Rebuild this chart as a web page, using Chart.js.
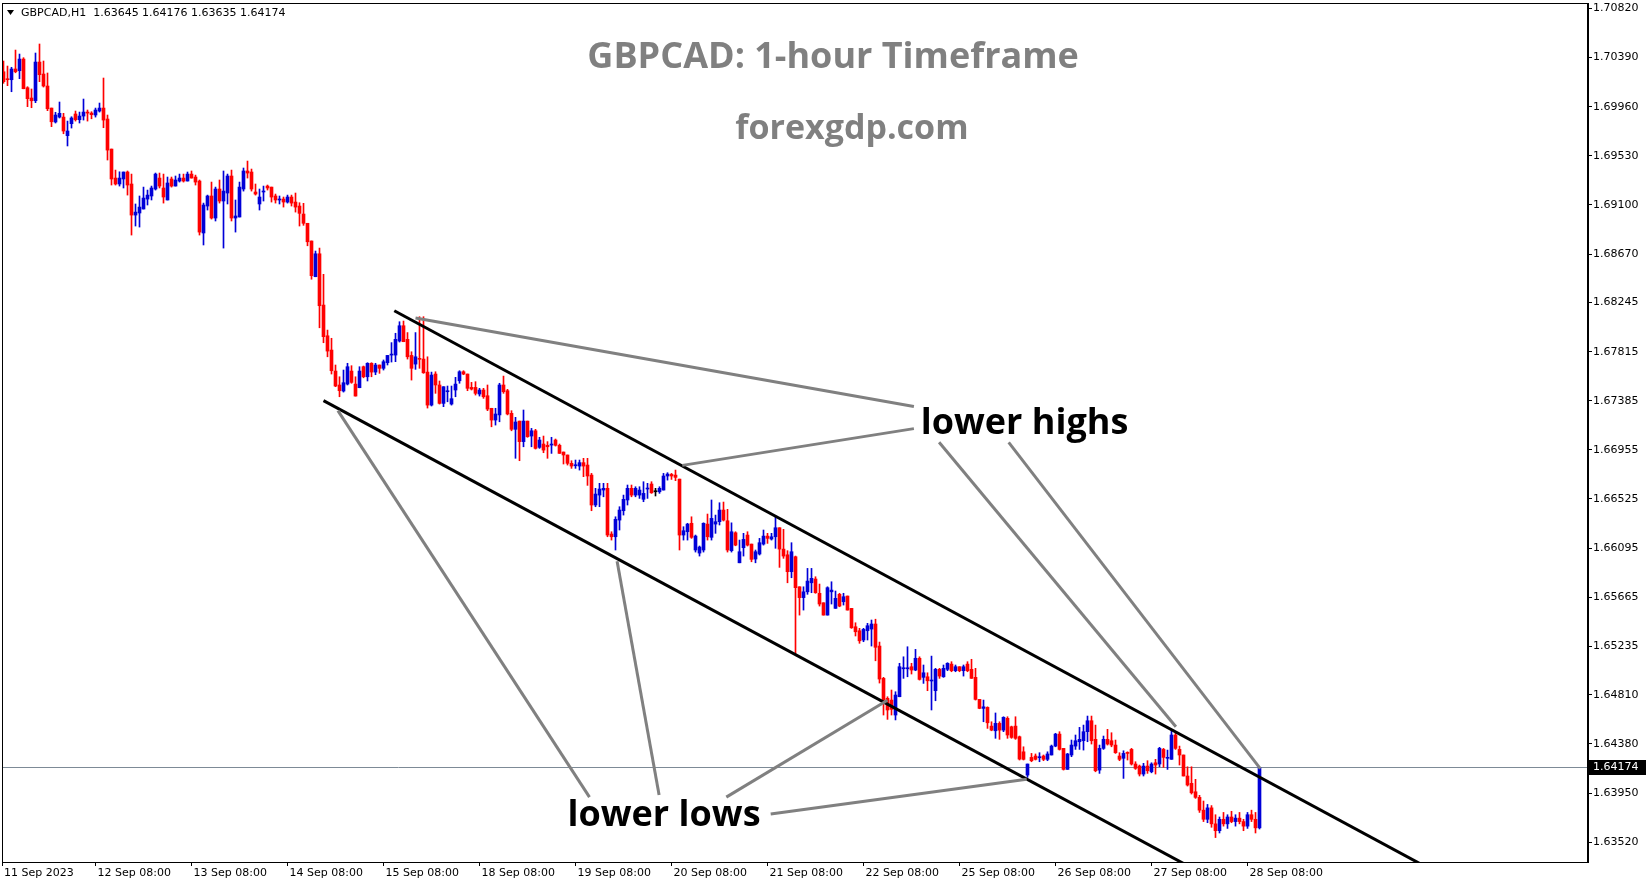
<!DOCTYPE html>
<html><head><meta charset="utf-8">
<script src="https://cdn.jsdelivr.net/npm/chart.js@4/dist/chart.umd.min.js"></script>
<style>html,body{margin:0;padding:0;background:#fff;overflow:hidden}canvas{display:block}</style>
</head><body>
<canvas id="c" width="1649" height="884" style="width:1649px;height:884px"></canvas>
<script>
// ---------- DATA (GBPCAD H1) ----------
const opens = [
1.70266,1.70205,1.70196,1.70290,1.70275,1.70377,1.70126,1.70036,1.70012,1.70351,
1.70246,1.70141,1.69948,1.69826,1.69869,1.69869,1.69706,1.69811,1.69896,1.69846,
1.69878,1.69913,1.69904,1.69887,1.69922,1.69948,1.69852,1.69589,1.69335,1.69283,
1.69327,1.69388,1.69283,1.69011,1.69029,1.69064,1.69151,1.69178,1.69239,1.69335,
1.69248,1.69143,1.69327,1.69265,1.69309,1.69335,1.69309,1.69370,1.69344,1.69309,
1.68854,1.69090,1.69178,1.68985,1.69239,1.69134,1.69204,1.69353,1.68985,1.68994,
1.69239,1.69397,1.69388,1.69213,1.69108,1.69213,1.69265,1.69256,1.69178,1.69143,
1.69151,1.69125,1.69169,1.69125,1.69090,1.69020,1.68939,1.68784,1.68471,1.68672,
1.68223,1.67954,1.67829,1.67645,1.67523,1.67470,1.67531,1.67645,1.67531,1.67499,
1.67683,1.67595,1.67713,1.67636,1.67698,1.67669,1.67718,1.67785,1.67785,1.67908,
1.68042,1.67923,1.67782,1.67706,1.67756,1.67750,1.67636,1.67347,1.67619,1.67523,
1.67362,1.67464,1.67356,1.67479,1.67560,1.67639,1.67619,1.67502,1.67502,1.67444,
1.67479,1.67429,1.67319,1.67216,1.67261,1.67523,1.67473,1.67275,1.67135,1.67207,
1.67027,1.67207,1.67076,1.67122,1.66977,1.67006,1.66995,1.66997,1.67041,1.66995,
1.66936,1.66910,1.66837,1.66816,1.66813,1.66843,1.66822,1.66734,1.66472,1.66559,
1.66603,1.66618,1.66218,1.66194,1.66340,1.66422,1.66516,1.66618,1.66559,1.66559,
1.66522,1.66612,1.66656,1.66588,1.66588,1.66603,1.66726,1.66740,1.66734,1.66699,
1.66209,1.66238,1.66312,1.66078,1.66051,1.66078,1.66305,1.66189,1.66305,1.66326,
1.66428,1.66334,1.66072,1.66229,1.65966,1.66098,1.66209,1.66130,1.65999,1.66043,
1.66130,1.66200,1.66174,1.66194,1.66273,1.66086,1.66036,1.65888,1.66019,1.65756,
1.65661,1.65712,1.65791,1.65824,1.65699,1.65616,1.65508,1.65712,1.65567,1.65690,
1.65625,1.65675,1.65567,1.65406,1.65371,1.65290,1.65371,1.65386,1.65430,1.65237,
1.64954,1.64779,1.64764,1.64633,1.64793,1.65038,1.65038,1.65056,1.65027,1.65130,
1.64963,1.64968,1.64931,1.64846,1.65033,1.64968,1.65033,1.65079,1.65021,1.65056,
1.65021,1.65079,1.65033,1.64963,1.64770,1.64691,1.64700,1.64536,1.64495,1.64560,
1.64501,1.64604,1.64530,1.64536,1.64443,1.64311,1.64107,1.64262,1.64274,1.64259,
1.64274,1.64245,1.64283,1.64361,1.64466,1.64341,1.64157,1.64283,1.64361,1.64399,
1.64408,1.64487,1.64583,1.64420,1.64151,1.64341,1.64420,1.64408,1.64370,1.64274,
1.64254,1.64303,1.64332,1.64204,1.64186,1.64116,1.64186,1.64136,1.64215,1.64204,
1.64332,1.64254,1.64245,1.64458,1.64332,1.64283,1.64099,1.64035,1.63961,1.63912,
1.63800,1.63720,1.63820,1.63680,1.63620,1.63720,1.63680,1.63740,1.63700,1.63730,
1.63700,1.63660,1.63760,1.63720,1.63645];
const highs = [
1.70360,1.70316,1.70305,1.70456,1.70421,1.70389,1.70135,1.70115,1.70430,1.70509,
1.70360,1.70255,1.69948,1.69911,1.70001,1.69902,1.69834,1.69872,1.69922,1.69913,
1.70027,1.69931,1.69916,1.69948,1.69992,1.70211,1.69887,1.69589,1.69405,1.69390,
1.69388,1.69397,1.69370,1.69108,1.69178,1.69256,1.69230,1.69265,1.69379,1.69379,
1.69370,1.69344,1.69344,1.69353,1.69370,1.69370,1.69388,1.69397,1.69361,1.69318,
1.69116,1.69186,1.69300,1.69256,1.69318,1.69397,1.69370,1.69405,1.69143,1.69300,
1.69423,1.69484,1.69414,1.69283,1.69239,1.69265,1.69274,1.69256,1.69195,1.69178,
1.69169,1.69186,1.69186,1.69204,1.69119,1.69114,1.68939,1.68784,1.68696,1.68722,
1.68492,1.68004,1.67932,1.67698,1.67595,1.67654,1.67713,1.67692,1.67595,1.67683,
1.67689,1.67718,1.67718,1.67713,1.67698,1.67742,1.67782,1.67894,1.67976,1.68077,
1.68083,1.67982,1.67814,1.67982,1.68121,1.68121,1.67770,1.67636,1.67639,1.67558,
1.67508,1.67514,1.67514,1.67590,1.67648,1.67648,1.67619,1.67546,1.67552,1.67494,
1.67494,1.67523,1.67319,1.67319,1.67538,1.67601,1.67485,1.67298,1.67240,1.67207,
1.67304,1.67207,1.67143,1.67135,1.67065,1.67076,1.67027,1.67065,1.67050,1.67006,
1.66936,1.66910,1.66860,1.66866,1.66866,1.66881,1.66881,1.66749,1.66618,1.66662,
1.66662,1.66662,1.66238,1.66369,1.66457,1.66559,1.66647,1.66647,1.66632,1.66632,
1.66676,1.66662,1.66676,1.66618,1.66632,1.66749,1.66755,1.66749,1.66778,1.66699,
1.66282,1.66312,1.66369,1.66209,1.66113,1.66316,1.66393,1.66516,1.66384,1.66492,
1.66498,1.66434,1.66316,1.66238,1.66165,1.66224,1.66238,1.66130,1.66078,1.66180,
1.66253,1.66224,1.66224,1.66369,1.66273,1.66259,1.66072,1.66142,1.66025,1.65756,
1.65756,1.65917,1.65917,1.65844,1.65780,1.65616,1.65756,1.65800,1.65719,1.65699,
1.65699,1.65675,1.65567,1.65441,1.65392,1.65392,1.65436,1.65465,1.65472,1.65272,
1.64963,1.64793,1.64852,1.64837,1.65086,1.65143,1.65231,1.65086,1.65208,1.65143,
1.65071,1.65003,1.65149,1.65042,1.65042,1.65071,1.65091,1.65100,1.65071,1.65056,
1.65071,1.65100,1.65121,1.65042,1.64770,1.64764,1.64705,1.64574,1.64651,1.64574,
1.64618,1.64618,1.64536,1.64618,1.64449,1.64355,1.64204,1.64297,1.64292,1.64303,
1.64283,1.64311,1.64370,1.64473,1.64487,1.64341,1.64297,1.64414,1.64458,1.64525,
1.64545,1.64624,1.64624,1.64545,1.64370,1.64449,1.64508,1.64478,1.64414,1.64303,
1.64320,1.64311,1.64341,1.64224,1.64195,1.64210,1.64233,1.64215,1.64245,1.64350,
1.64341,1.64326,1.64508,1.64473,1.64361,1.64283,1.64180,1.64180,1.64070,1.63930,
1.63880,1.63850,1.63840,1.63760,1.63740,1.63780,1.63760,1.63790,1.63760,1.63780,
1.63720,1.63780,1.63800,1.63780,1.64176];
const lows = [
1.70165,1.70144,1.70091,1.70257,1.70205,1.70117,1.69960,1.69951,1.69995,1.70179,
1.70132,1.69925,1.69785,1.69817,1.69861,1.69723,1.69616,1.69773,1.69834,1.69817,
1.69843,1.69834,1.69854,1.69869,1.69913,1.69776,1.69493,1.69274,1.69274,1.69265,
1.69248,1.69186,1.68836,1.68915,1.68906,1.69064,1.69099,1.69143,1.69230,1.69248,
1.69116,1.69143,1.69256,1.69265,1.69300,1.69300,1.69309,1.69335,1.69274,1.68836,
1.68749,1.69055,1.68976,1.68959,1.69116,1.68722,1.69108,1.68959,1.68862,1.68994,
1.69221,1.69335,1.69221,1.69186,1.69055,1.69134,1.69230,1.69125,1.69116,1.69108,
1.69081,1.69116,1.69090,1.69037,1.68915,1.68921,1.68742,1.68449,1.68471,1.68024,
1.67893,1.67770,1.67619,1.67508,1.67420,1.67461,1.67523,1.67538,1.67426,1.67499,
1.67586,1.67558,1.67595,1.67613,1.67625,1.67654,1.67698,1.67724,1.67727,1.67899,
1.67902,1.67750,1.67566,1.67660,1.67669,1.67625,1.67321,1.67339,1.67450,1.67356,
1.67333,1.67376,1.67347,1.67420,1.67538,1.67613,1.67473,1.67479,1.67435,1.67426,
1.67406,1.67298,1.67157,1.67172,1.67201,1.67450,1.67261,1.67122,1.66881,1.66860,
1.66982,1.67065,1.66982,1.66962,1.66968,1.66930,1.66881,1.66924,1.66988,1.66924,
1.66831,1.66822,1.66793,1.66793,1.66778,1.66720,1.66644,1.66422,1.66457,1.66457,
1.66544,1.66194,1.66165,1.66078,1.66253,1.66384,1.66472,1.66544,1.66544,1.66530,
1.66501,1.66530,1.66574,1.66551,1.66574,1.66603,1.66690,1.66696,1.66685,1.66078,
1.66165,1.66165,1.66180,1.66060,1.66025,1.66060,1.66165,1.66165,1.66224,1.66297,
1.66332,1.66060,1.66060,1.66115,1.65966,1.66025,1.66113,1.65975,1.65966,1.66034,
1.66121,1.66136,1.66165,1.66093,1.65926,1.66005,1.65791,1.65835,1.65167,1.65508,
1.65552,1.65690,1.65704,1.65699,1.65587,1.65508,1.65508,1.65605,1.65567,1.65581,
1.65596,1.65552,1.65392,1.65325,1.65261,1.65275,1.65290,1.65237,1.65108,1.64913,
1.64633,1.64595,1.64633,1.64590,1.64793,1.64954,1.64968,1.64992,1.65021,1.64939,
1.64910,1.64846,1.64677,1.64758,1.64954,1.64963,1.65021,1.65012,1.65012,1.65012,
1.64974,1.65012,1.64954,1.64764,1.64688,1.64574,1.64516,1.64495,1.64429,1.64420,
1.64487,1.64429,1.64429,1.64420,1.64239,1.64239,1.64087,1.64224,1.64239,1.64224,
1.64233,1.64233,1.64283,1.64355,1.64326,1.64151,1.64157,1.64268,1.64332,1.64332,
1.64326,1.64399,1.64379,1.64136,1.64122,1.64332,1.64370,1.64355,1.64297,1.64233,
1.64078,1.64239,1.64195,1.64157,1.64099,1.64099,1.64122,1.64127,1.64116,1.64180,
1.64175,1.64157,1.64245,1.64332,1.64195,1.64099,1.64011,1.63941,1.63903,1.63780,
1.63700,1.63690,1.63650,1.63560,1.63600,1.63660,1.63640,1.63690,1.63660,1.63680,
1.63620,1.63640,1.63700,1.63600,1.63635];
const closes = [
1.70179,1.70196,1.70290,1.70266,1.70377,1.70117,1.70030,1.70012,1.70351,1.70240,
1.70141,1.69942,1.69828,1.69887,1.69902,1.69747,1.69747,1.69861,1.69846,1.69878,
1.69913,1.69904,1.69890,1.69931,1.69948,1.69843,1.69580,1.69327,1.69283,1.69335,
1.69388,1.69274,1.69011,1.69037,1.69081,1.69160,1.69186,1.69248,1.69370,1.69265,
1.69169,1.69292,1.69265,1.69318,1.69335,1.69309,1.69370,1.69335,1.69300,1.68862,
1.69099,1.69178,1.68985,1.69239,1.69134,1.69221,1.69353,1.68985,1.69003,1.69256,
1.69397,1.69379,1.69239,1.69195,1.69169,1.69221,1.69248,1.69169,1.69143,1.69151,
1.69125,1.69169,1.69116,1.69081,1.69026,1.68939,1.68777,1.68480,1.68672,1.68217,
1.67946,1.67820,1.67648,1.67514,1.67473,1.67543,1.67683,1.67546,1.67426,1.67645,
1.67595,1.67713,1.67636,1.67698,1.67669,1.67727,1.67782,1.67793,1.67923,1.68042,
1.67902,1.67770,1.67669,1.67770,1.67748,1.67630,1.67347,1.67610,1.67523,1.67362,
1.67508,1.67470,1.67403,1.67531,1.67639,1.67619,1.67494,1.67487,1.67450,1.67479,
1.67420,1.67312,1.67216,1.67269,1.67523,1.67464,1.67269,1.67135,1.67199,1.67027,
1.67207,1.67070,1.67122,1.66968,1.67041,1.66953,1.66982,1.67006,1.66995,1.66924,
1.66910,1.66837,1.66813,1.66822,1.66843,1.66813,1.66726,1.66472,1.66568,1.66612,
1.66618,1.66209,1.66194,1.66347,1.66428,1.66522,1.66618,1.66559,1.66618,1.66603,
1.66574,1.66618,1.66579,1.66588,1.66618,1.66726,1.66743,1.66726,1.66714,1.66209,
1.66247,1.66305,1.66189,1.66200,1.66104,1.66312,1.66194,1.66355,1.66326,1.66428,
1.66340,1.66078,1.66238,1.66121,1.66063,1.66171,1.66121,1.65996,1.66063,1.66142,
1.66200,1.66180,1.66194,1.66273,1.66086,1.66025,1.65888,1.66063,1.65748,1.65661,
1.65712,1.65806,1.65830,1.65704,1.65605,1.65508,1.65748,1.65727,1.65655,1.65587,
1.65669,1.65552,1.65397,1.65362,1.65283,1.65383,1.65415,1.65430,1.65226,1.64948,
1.64764,1.64677,1.64683,1.64808,1.65056,1.65047,1.65044,1.65027,1.65130,1.64945,
1.65003,1.64933,1.64939,1.65033,1.64974,1.65042,1.65086,1.65021,1.65056,1.65021,
1.65056,1.65021,1.64954,1.64770,1.64691,1.64705,1.64565,1.64501,1.64560,1.64501,
1.64613,1.64458,1.64437,1.64429,1.64247,1.64245,1.64204,1.64233,1.64245,1.64268,
1.64245,1.64292,1.64361,1.64466,1.64332,1.64157,1.64292,1.64370,1.64408,1.64420,
1.64487,1.64583,1.64408,1.64145,1.64341,1.64420,1.64379,1.64370,1.64303,1.64245,
1.64297,1.64297,1.64204,1.64166,1.64116,1.64186,1.64145,1.64204,1.64195,1.64341,
1.64262,1.64262,1.64458,1.64341,1.64283,1.64099,1.64020,1.63952,1.63912,1.63800,
1.63720,1.63820,1.63680,1.63620,1.63720,1.63680,1.63740,1.63700,1.63730,1.63700,
1.63660,1.63760,1.63720,1.63645,1.64174];

const xTickIndex  = [-0.375, 23, 47, 71, 95, 119, 143, 167, 191, 215, 239, 263, 287, 311];
const xTickLabels = ['11 Sep 2023','12 Sep 08:00','13 Sep 08:00','14 Sep 08:00','15 Sep 08:00',
  '18 Sep 08:00','19 Sep 08:00','20 Sep 08:00','21 Sep 08:00','22 Sep 08:00',
  '25 Sep 08:00','26 Sep 08:00','27 Sep 08:00','28 Sep 08:00'];
const yTickValues = [1.70820,1.70390,1.69960,1.69530,1.69100,1.68670,1.68245,1.67815,1.67385,
  1.66955,1.66525,1.66095,1.65665,1.65235,1.64810,1.64380,1.63950,1.63520];

// channel lines and annotation connectors, in (bar index, price)
const channelUpper = [[97.7, 1.68173], [356.6, 1.63285]];
const channelLower = [[80.0, 1.67386], [296.6, 1.63303]];
const highLinks = [
  [[103.0, 1.68109], [227.6, 1.67334]],
  [[169.7, 1.66819], [227.6, 1.67141]],
  [[233.9, 1.67021], [293.1, 1.64531]],
  [[251.3, 1.67021], [314.2, 1.64163]]];
const lowLinks = [
  [[146.5, 1.63914], [83.6, 1.67298]],
  [[163.9, 1.63932], [153.4, 1.65980]],
  [[180.7, 1.63914], [221.0, 1.64763]],
  [[191.8, 1.63766], [255.8, 1.64071]]];

const symbolText = 'GBPCAD,H1';
const titleText = 'GBPCAD: 1-hour Timeframe';
const siteText = 'forexgdp.com';
const labelHighs = 'lower highs';
const labelLows = 'lower lows';

// ---------- layout / style ----------
const X_MIN = -0.375, X_MAX = 396.125;
const Y_MIN = 1.63346, Y_MAX = 1.70868;
const UP = '#0000d8', DOWN = '#ff0000', DOJI = '#000000';
const AXIS_FONT = {family: 'DejaVu Sans', size: 11};

const idx = opens.map((_, i) => i);
const candleColor = i => closes[i] > opens[i] ? UP : (closes[i] < opens[i] ? DOWN : DOJI);
const colors = idx.map(candleColor);
const toPts = seg => seg.map(p => ({x: p[0], y: p[1]}));
const lineDs = (seg, color, order) => ({
  type: 'line', data: toPts(seg), borderColor: color, borderWidth: 3,
  pointRadius: 0, fill: false, tension: 0, clip: 0, order: order
});

const datasets = [
  {type: 'bar', data: idx.map(i => ({x: i, y: [lows[i], highs[i]]})), backgroundColor: colors,
   barThickness: 1, grouped: false, minBarLength: 1, borderWidth: 0, order: 6},
  {type: 'bar', data: idx.map(i => ({x: i, y: [opens[i], closes[i]]})), backgroundColor: colors,
   barThickness: 3, grouped: false, minBarLength: 1, borderWidth: 0, order: 5},
  lineDs(channelUpper, '#000000', 2),
  lineDs(channelLower, '#000000', 2),
  ...highLinks.map(s => lineDs(s, '#808080', 1)),
  ...lowLinks.map(s => lineDs(s, '#808080', 1))
];

const overlay = {
  id: 'overlay',
  beforeDatasetsDraw(chart) {
    const {ctx, chartArea: a, scales: {y}} = chart;
    const py = Math.round(y.getPixelForValue(closes[closes.length - 1])) + 0.5;
    ctx.save();
    ctx.strokeStyle = '#7d8a96'; ctx.lineWidth = 1;
    ctx.beginPath(); ctx.moveTo(a.left, py); ctx.lineTo(a.right, py); ctx.stroke();
    ctx.restore();
  },
  afterDatasetsDraw(chart) {
    const {ctx, chartArea: a, scales: {x, y}} = chart;
    ctx.save();
    ctx.beginPath(); ctx.rect(a.left, a.top, a.right - a.left, a.bottom - a.top); ctx.clip();
    ctx.textBaseline = 'middle';
    ctx.fillStyle = '#808080'; ctx.textAlign = 'center';
    ctx.font = 'bold 36px "Open Sans"';
    ctx.fillText(titleText, x.getPixelForValue(207.4), y.getPixelForValue(1.70392));
    ctx.font = 'bold 34px "Open Sans"';
    ctx.fillText(siteText, x.getPixelForValue(212.1), y.getPixelForValue(1.69762));
    ctx.fillStyle = '#000000'; ctx.textAlign = 'left';
    ctx.font = 'bold 36px "Open Sans"';
    ctx.fillText(labelHighs, x.getPixelForValue(229.3), y.getPixelForValue(1.67187));
    ctx.fillText(labelLows, x.getPixelForValue(141.0), y.getPixelForValue(1.63755));
    // header line
    const n = closes.length - 1;
    ctx.font = '11px "DejaVu Sans"';
    ctx.beginPath(); ctx.moveTo(a.left + 5, 10); ctx.lineTo(a.left + 12, 10); ctx.lineTo(a.left + 8.5, 15); ctx.closePath(); ctx.fill();
    const hdr = symbolText + '  ' + [opens[n], highs[n], lows[n], closes[n]].map(v => v.toFixed(5)).join(' ');
    ctx.fillText(hdr, a.left + 19, 13.5);
    ctx.restore();
  },
  afterDraw(chart) {
    const {ctx, chartArea: a, scales: {y}} = chart;
    ctx.save();
    ctx.strokeStyle = '#000'; ctx.lineWidth = 1;
    ctx.strokeRect(a.left + 0.5, a.top + 0.5, a.right - a.left - 1, a.bottom - a.top);
    const last = closes[closes.length - 1];
    const py = Math.round(y.getPixelForValue(last));
    ctx.fillStyle = '#000';
    ctx.fillRect(a.right + 1, py - 7, 57, 15);
    ctx.fillStyle = '#fff'; ctx.font = '11px "DejaVu Sans"'; ctx.textBaseline = 'middle'; ctx.textAlign = 'left';
    ctx.fillText(last.toFixed(5), a.right + 5, py + 0.5);
    ctx.restore();
  }
};

new Chart(document.getElementById('c'), {
  type: 'bar',
  data: {datasets},
  options: {
    responsive: false, animation: false, devicePixelRatio: 1, events: [],
    layout: {padding: {left: 2, top: 3, right: 2, bottom: 0}, autoPadding: false},
    plugins: {legend: {display: false}, tooltip: {enabled: false}, title: {display: false}},
    scales: {
      x: {
        type: 'linear', min: X_MIN, max: X_MAX, offset: false,
        grid: {display: true, drawOnChartArea: false, offset: false, tickLength: 4, color: '#000'},
        border: {display: true, color: '#000'},
        afterBuildTicks: s => { s.ticks = xTickIndex.map(v => ({value: v})); },
        afterFit: s => { s.height = 22; s.paddingLeft = 0; s.paddingRight = 0; },
        ticks: {autoSkip: false, maxRotation: 0, minRotation: 0, align: 'start', labelOffset: 2,
                padding: 1, color: '#000', font: AXIS_FONT, callback: (v, i) => xTickLabels[i]}
      },
      y: {
        type: 'linear', position: 'right', min: Y_MIN, max: Y_MAX,
        grid: {display: true, drawOnChartArea: false, tickLength: 4, color: '#000'},
        border: {display: true, color: '#000'},
        afterBuildTicks: s => { s.ticks = yTickValues.map(v => ({value: v})); },
        afterFit: s => { s.width = 59; s.paddingTop = 0; s.paddingBottom = 0; },
        ticks: {padding: 1, color: '#000', font: AXIS_FONT, callback: v => v.toFixed(5)}
      }
    }
  },
  plugins: [overlay]
});
</script>
</body></html>
